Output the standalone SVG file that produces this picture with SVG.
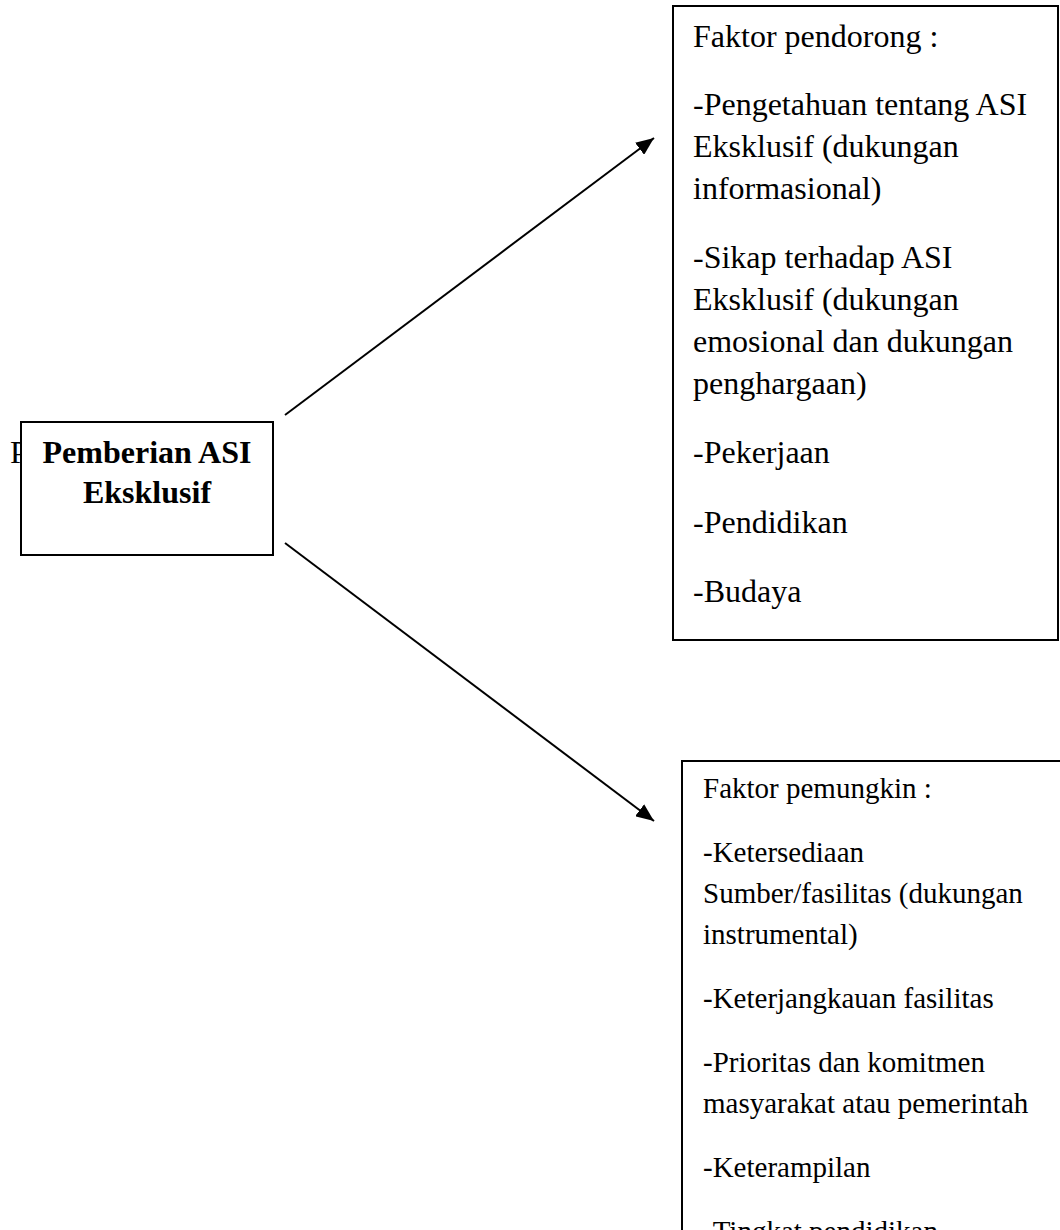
<svg xmlns="http://www.w3.org/2000/svg" width="1060" height="1230" viewBox="0 0 1060 1230">
<defs>
<style>
text{font-family:"Liberation Serif","Times New Roman",serif;fill:#000}
.box{fill:#fff;stroke:#000;stroke-width:2}
.t1{font-size:32px}
.t2{font-size:29px}
.b{font-size:32px;font-weight:bold;text-anchor:middle}
.conn{stroke:#000;stroke-width:2;fill:none;marker-end:url(#arr)}
</style>
<marker id="arr" markerUnits="userSpaceOnUse" markerWidth="19" markerHeight="15" refX="18" refY="7.5" orient="auto">
<path d="M0,0 L18,7.5 L0,15 z" fill="#000"/>
</marker>
</defs>
<rect width="1060" height="1230" fill="#fff"/>
<g id="connectors">
<line class="conn" x1="285" y1="415" x2="654" y2="138"/>
<line class="conn" x1="285" y1="543" x2="654" y2="821"/>
</g>
<g id="node-center">
<text class="t1" x="10" y="463">P</text>
<rect class="box" x="21" y="422" width="252" height="133"/>
<text class="b" x="147" y="463">Pemberian ASI</text>
<text class="b" x="147" y="503">Eksklusif</text>
</g>
<g id="node-pendorong">
<rect class="box" x="673" y="6" width="385" height="634"/>
<text class="t1" x="693" y="47">Faktor pendorong :</text>
<text class="t1" x="693" y="115">-Pengetahuan tentang ASI</text>
<text class="t1" x="693" y="157">Eksklusif (dukungan</text>
<text class="t1" x="693" y="199">informasional)</text>
<text class="t1" x="693" y="268">-Sikap terhadap ASI</text>
<text class="t1" x="693" y="310">Eksklusif (dukungan</text>
<text class="t1" x="693" y="352">emosional dan dukungan</text>
<text class="t1" x="693" y="394">penghargaan)</text>
<text class="t1" x="693" y="463">-Pekerjaan</text>
<text class="t1" x="693" y="533">-Pendidikan</text>
<text class="t1" x="693" y="602">-Budaya</text>
</g>
<g id="node-pemungkin">
<rect class="box" x="682" y="761" width="400" height="500"/>
<text class="t2" x="703" y="798">Faktor pemungkin :</text>
<text class="t2" x="703" y="862">-Ketersediaan</text>
<text class="t2" x="703" y="903">Sumber/fasilitas (dukungan</text>
<text class="t2" x="703" y="944">instrumental)</text>
<text class="t2" x="703" y="1008">-Keterjangkauan fasilitas</text>
<text class="t2" x="703" y="1072">-Prioritas dan komitmen</text>
<text class="t2" x="703" y="1113">masyarakat atau pemerintah</text>
<text class="t2" x="703" y="1177">-Keterampilan</text>
<text class="t2" x="703" y="1241">-Tingkat pendidikan</text>
</g>
</svg>
